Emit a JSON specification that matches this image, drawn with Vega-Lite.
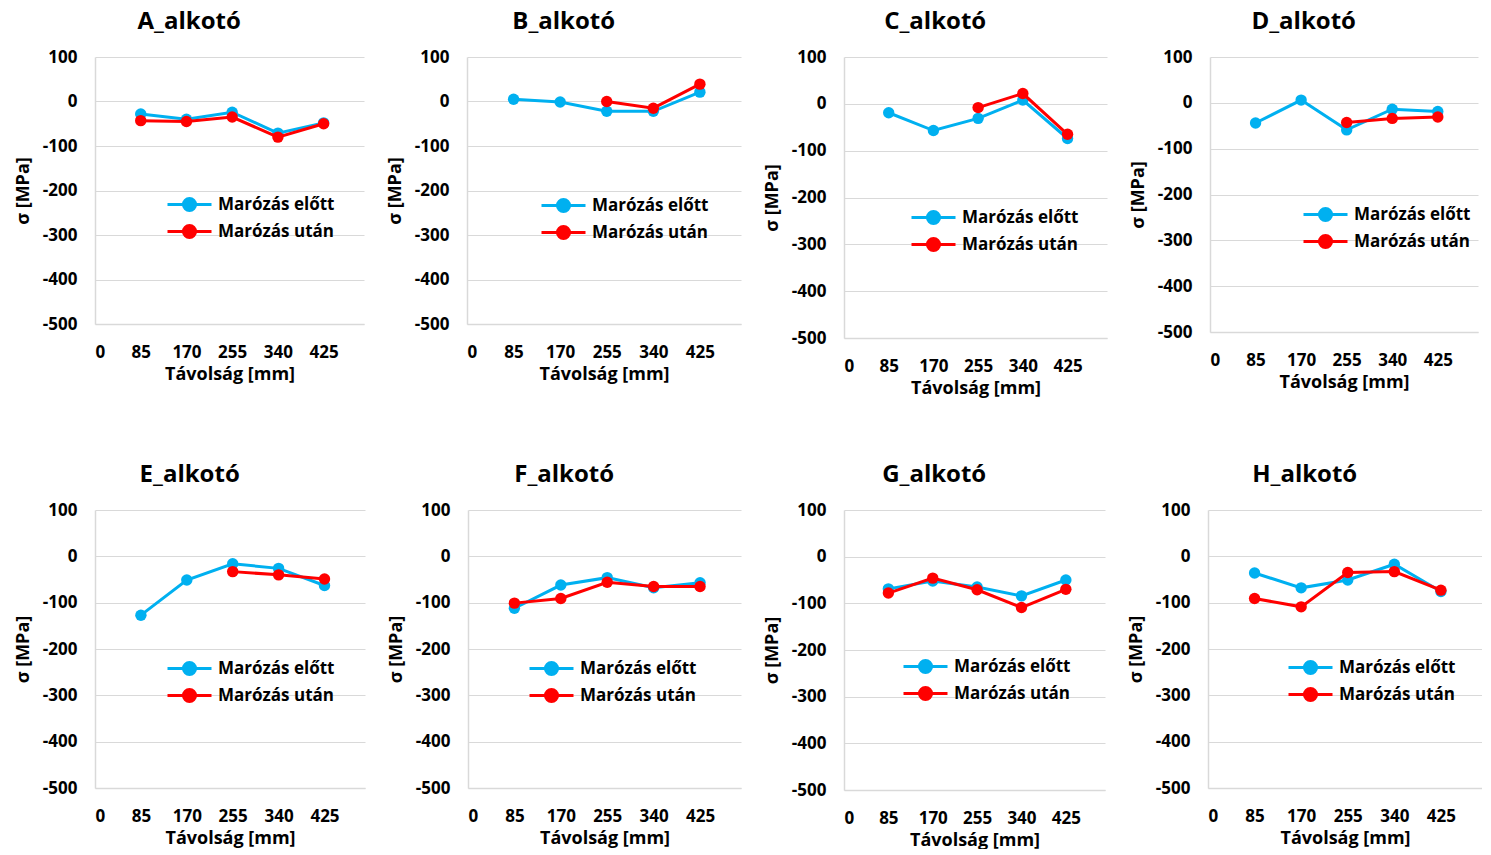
{
"$schema": "https://vega.github.io/schema/vega-lite/v6.json",
"padding": {"top": 10, "left": 14, "right": 0, "bottom": 0},
"background": "white",
"datasets": {"d": [
{"panel":"A","series":"Marózás előtt","x":85,"y":-28},{"panel":"A","series":"Marózás előtt","x":170,"y":-40},{"panel":"A","series":"Marózás előtt","x":255,"y":-24},{"panel":"A","series":"Marózás előtt","x":340,"y":-71},{"panel":"A","series":"Marózás előtt","x":425,"y":-48},
{"panel":"A","series":"Marózás után","x":85,"y":-43},{"panel":"A","series":"Marózás után","x":170,"y":-45},{"panel":"A","series":"Marózás után","x":255,"y":-35},{"panel":"A","series":"Marózás után","x":340,"y":-80},{"panel":"A","series":"Marózás után","x":425,"y":-50},
{"panel":"B","series":"Marózás előtt","x":85,"y":5},{"panel":"B","series":"Marózás előtt","x":170,"y":-1},{"panel":"B","series":"Marózás előtt","x":255,"y":-22},{"panel":"B","series":"Marózás előtt","x":340,"y":-22},{"panel":"B","series":"Marózás előtt","x":425,"y":21},
{"panel":"B","series":"Marózás után","x":255,"y":0},{"panel":"B","series":"Marózás után","x":340,"y":-15},{"panel":"B","series":"Marózás után","x":425,"y":39},
{"panel":"C","series":"Marózás előtt","x":85,"y":-19},{"panel":"C","series":"Marózás előtt","x":170,"y":-57},{"panel":"C","series":"Marózás előtt","x":255,"y":-31},{"panel":"C","series":"Marózás előtt","x":340,"y":8},{"panel":"C","series":"Marózás előtt","x":425,"y":-74},
{"panel":"C","series":"Marózás után","x":255,"y":-8},{"panel":"C","series":"Marózás után","x":340,"y":22},{"panel":"C","series":"Marózás után","x":425,"y":-65},
{"panel":"D","series":"Marózás előtt","x":85,"y":-44},{"panel":"D","series":"Marózás előtt","x":170,"y":6},{"panel":"D","series":"Marózás előtt","x":255,"y":-59},{"panel":"D","series":"Marózás előtt","x":340,"y":-14},{"panel":"D","series":"Marózás előtt","x":425,"y":-19},
{"panel":"D","series":"Marózás után","x":255,"y":-43},{"panel":"D","series":"Marózás után","x":340,"y":-34},{"panel":"D","series":"Marózás után","x":425,"y":-31},
{"panel":"E","series":"Marózás előtt","x":85,"y":-127},{"panel":"E","series":"Marózás előtt","x":170,"y":-51},{"panel":"E","series":"Marózás előtt","x":255,"y":-16},{"panel":"E","series":"Marózás előtt","x":340,"y":-26},{"panel":"E","series":"Marózás előtt","x":425,"y":-63},
{"panel":"E","series":"Marózás után","x":255,"y":-33},{"panel":"E","series":"Marózás után","x":340,"y":-40},{"panel":"E","series":"Marózás után","x":425,"y":-49},
{"panel":"F","series":"Marózás előtt","x":85,"y":-112},{"panel":"F","series":"Marózás előtt","x":170,"y":-62},{"panel":"F","series":"Marózás előtt","x":255,"y":-46},{"panel":"F","series":"Marózás előtt","x":340,"y":-68},{"panel":"F","series":"Marózás előtt","x":425,"y":-57},
{"panel":"F","series":"Marózás után","x":85,"y":-101},{"panel":"F","series":"Marózás után","x":170,"y":-91},{"panel":"F","series":"Marózás után","x":255,"y":-56},{"panel":"F","series":"Marózás után","x":340,"y":-65},{"panel":"F","series":"Marózás után","x":425,"y":-65},
{"panel":"G","series":"Marózás előtt","x":85,"y":-69},{"panel":"G","series":"Marózás előtt","x":170,"y":-52},{"panel":"G","series":"Marózás előtt","x":255,"y":-65},{"panel":"G","series":"Marózás előtt","x":340,"y":-84},{"panel":"G","series":"Marózás előtt","x":425,"y":-50},
{"panel":"G","series":"Marózás után","x":85,"y":-78},{"panel":"G","series":"Marózás után","x":170,"y":-46},{"panel":"G","series":"Marózás után","x":255,"y":-71},{"panel":"G","series":"Marózás után","x":340,"y":-109},{"panel":"G","series":"Marózás után","x":425,"y":-70},
{"panel":"H","series":"Marózás előtt","x":85,"y":-36},{"panel":"H","series":"Marózás előtt","x":170,"y":-68},{"panel":"H","series":"Marózás előtt","x":255,"y":-51},{"panel":"H","series":"Marózás előtt","x":340,"y":-17},{"panel":"H","series":"Marózás előtt","x":425,"y":-76},
{"panel":"H","series":"Marózás után","x":85,"y":-91},{"panel":"H","series":"Marózás után","x":170,"y":-109},{"panel":"H","series":"Marózás után","x":255,"y":-35},{"panel":"H","series":"Marózás után","x":340,"y":-33},{"panel":"H","series":"Marózás után","x":425,"y":-73}
]},
"data": {"name": "d"},
"config": {
  "font": "Open Sans",
  "view": {"stroke": null},
  "axis": {"labelFont": "Open Sans", "labelFontWeight": "bold", "labelFontSize": 17, "labelColor": "#000000", "titleFont": "Open Sans", "titleFontWeight": "bold", "titleFontSize": 18, "titleColor": "#000000", "ticks": false, "gridColor": "#d9d9d9", "domainColor": "#d9d9d9", "domainWidth": 1.5},
  "axisY": {"labelPadding": 18, "titlePadding": 10, "grid": true},
  "axisX": {"labelPadding": 20, "titlePadding": 5, "grid": false},
  "title": {"font": "Open Sans", "fontSize": 24, "fontWeight": "bold", "color": "#000000", "frame": "bounds", "offset": 14},
  "legend": {"labelFont": "Open Sans", "labelFontSize": 17, "labelFontWeight": "bold", "labelColor": "#000000", "labelOffset": 16, "rowPadding": 2, "padding": 0, "symbolStrokeWidth": 3}
},
"spacing": 66,
"resolve": {"scale": {"color": "independent"}, "legend": {"color": "independent"}},
"vconcat": [
{"spacing": 22, "resolve": {"scale": {"color": "independent"}, "legend": {"color": "independent"}}, "hconcat": [
 {"width": 269, "height": 267, "title": "A_alkotó", "transform": [{"filter": "datum.panel=='A'"}],
  "encoding": {
   "x": {"field": "x", "type": "quantitative", "scale": {"domain": [0, 500], "nice": false}, "axis": {"values": [0, 85, 170, 255, 340, 425], "title": "Távolság [mm]"}},
   "y": {"field": "y", "type": "quantitative", "scale": {"domain": [-500, 100], "nice": false}, "axis": {"values": [-500, -400, -300, -200, -100, 0, 100], "title": "σ [MPa]", "labelExpr": "'' + datum.value"}},
   "color": {"field": "series", "type": "nominal", "scale": {"domain": ["Marózás előtt", "Marózás után"], "range": ["#00B0F0", "#FF0000"]}, "legend": {"title": null, "orient": "none", "legendX": 82, "legendY": 135, "symbolType": "M-2,0L2,0M-0.55,0A0.55,0.55,0,1,1,0.55,0A0.55,0.55,0,1,1,-0.55,0Z", "symbolSize": 484, "encode": {"symbols": {"update": {"fill": {"signal": "datum.value=='Marózás előtt'?'#00B0F0':'#FF0000'"}, "stroke": {"signal": "datum.value=='Marózás előtt'?'#00B0F0':'#FF0000'"}, "opacity": {"value": 1}}}}}}
  },
  "layer": [
   {"transform": [{"filter": "datum.series=='Marózás előtt'"}], "mark": {"type": "line", "strokeWidth": 3, "point": {"filled": true, "size": 130, "opacity": 1}}},
   {"transform": [{"filter": "datum.series=='Marózás után'"}], "mark": {"type": "line", "strokeWidth": 3, "point": {"filled": true, "size": 130, "opacity": 1}}}
  ]},
 {"width": 274, "height": 267, "title": "B_alkotó", "transform": [{"filter": "datum.panel=='B'"}],
  "encoding": {
   "x": {"field": "x", "type": "quantitative", "scale": {"domain": [0, 500], "nice": false}, "axis": {"values": [0, 85, 170, 255, 340, 425], "title": "Távolság [mm]"}},
   "y": {"field": "y", "type": "quantitative", "scale": {"domain": [-500, 100], "nice": false}, "axis": {"values": [-500, -400, -300, -200, -100, 0, 100], "title": "σ [MPa]", "labelExpr": "'' + datum.value"}},
   "color": {"field": "series", "type": "nominal", "scale": {"domain": ["Marózás előtt", "Marózás után"], "range": ["#00B0F0", "#FF0000"]}, "legend": {"title": null, "orient": "none", "legendX": 84, "legendY": 136, "symbolType": "M-2,0L2,0M-0.55,0A0.55,0.55,0,1,1,0.55,0A0.55,0.55,0,1,1,-0.55,0Z", "symbolSize": 484, "encode": {"symbols": {"update": {"fill": {"signal": "datum.value=='Marózás előtt'?'#00B0F0':'#FF0000'"}, "stroke": {"signal": "datum.value=='Marózás előtt'?'#00B0F0':'#FF0000'"}, "opacity": {"value": 1}}}}}}
  },
  "layer": [
   {"transform": [{"filter": "datum.series=='Marózás előtt'"}], "mark": {"type": "line", "strokeWidth": 3, "point": {"filled": true, "size": 130, "opacity": 1}}},
   {"transform": [{"filter": "datum.series=='Marózás után'"}], "mark": {"type": "line", "strokeWidth": 3, "point": {"filled": true, "size": 130, "opacity": 1}}}
  ]},
 {"width": 263, "height": 281, "title": "C_alkotó", "transform": [{"filter": "datum.panel=='C'"}],
  "encoding": {
   "x": {"field": "x", "type": "quantitative", "scale": {"domain": [0, 500], "nice": false}, "axis": {"values": [0, 85, 170, 255, 340, 425], "title": "Távolság [mm]"}},
   "y": {"field": "y", "type": "quantitative", "scale": {"domain": [-500, 100], "nice": false}, "axis": {"values": [-500, -400, -300, -200, -100, 0, 100], "title": "σ [MPa]", "labelExpr": "'' + datum.value"}},
   "color": {"field": "series", "type": "nominal", "scale": {"domain": ["Marózás előtt", "Marózás után"], "range": ["#00B0F0", "#FF0000"]}, "legend": {"title": null, "orient": "none", "legendX": 77, "legendY": 148, "symbolType": "M-2,0L2,0M-0.55,0A0.55,0.55,0,1,1,0.55,0A0.55,0.55,0,1,1,-0.55,0Z", "symbolSize": 484, "encode": {"symbols": {"update": {"fill": {"signal": "datum.value=='Marózás előtt'?'#00B0F0':'#FF0000'"}, "stroke": {"signal": "datum.value=='Marózás előtt'?'#00B0F0':'#FF0000'"}, "opacity": {"value": 1}}}}}}
  },
  "layer": [
   {"transform": [{"filter": "datum.series=='Marózás előtt'"}], "mark": {"type": "line", "strokeWidth": 3, "point": {"filled": true, "size": 130, "opacity": 1}}},
   {"transform": [{"filter": "datum.series=='Marózás után'"}], "mark": {"type": "line", "strokeWidth": 3, "point": {"filled": true, "size": 130, "opacity": 1}}}
  ]},
 {"width": 268, "height": 275, "title": "D_alkotó", "transform": [{"filter": "datum.panel=='D'"}],
  "encoding": {
   "x": {"field": "x", "type": "quantitative", "scale": {"domain": [0, 500], "nice": false}, "axis": {"values": [0, 85, 170, 255, 340, 425], "title": "Távolság [mm]"}},
   "y": {"field": "y", "type": "quantitative", "scale": {"domain": [-500, 100], "nice": false}, "axis": {"values": [-500, -400, -300, -200, -100, 0, 100], "title": "σ [MPa]", "labelExpr": "'' + datum.value"}},
   "color": {"field": "series", "type": "nominal", "scale": {"domain": ["Marózás előtt", "Marózás után"], "range": ["#00B0F0", "#FF0000"]}, "legend": {"title": null, "orient": "none", "legendX": 103, "legendY": 145, "symbolType": "M-2,0L2,0M-0.55,0A0.55,0.55,0,1,1,0.55,0A0.55,0.55,0,1,1,-0.55,0Z", "symbolSize": 484, "encode": {"symbols": {"update": {"fill": {"signal": "datum.value=='Marózás előtt'?'#00B0F0':'#FF0000'"}, "stroke": {"signal": "datum.value=='Marózás előtt'?'#00B0F0':'#FF0000'"}, "opacity": {"value": 1}}}}}}
  },
  "layer": [
   {"transform": [{"filter": "datum.series=='Marózás előtt'"}], "mark": {"type": "line", "strokeWidth": 3, "point": {"filled": true, "size": 130, "opacity": 1}}},
   {"transform": [{"filter": "datum.series=='Marózás után'"}], "mark": {"type": "line", "strokeWidth": 3, "point": {"filled": true, "size": 130, "opacity": 1}}}
  ]}
]},
{"spacing": 22, "resolve": {"scale": {"color": "independent"}, "legend": {"color": "independent"}}, "hconcat": [
 {"width": 270, "height": 278, "title": "E_alkotó", "transform": [{"filter": "datum.panel=='E'"}],
  "encoding": {
   "x": {"field": "x", "type": "quantitative", "scale": {"domain": [0, 500], "nice": false}, "axis": {"values": [0, 85, 170, 255, 340, 425], "title": "Távolság [mm]"}},
   "y": {"field": "y", "type": "quantitative", "scale": {"domain": [-500, 100], "nice": false}, "axis": {"values": [-500, -400, -300, -200, -100, 0, 100], "title": "σ [MPa]", "labelExpr": "'' + datum.value"}},
   "color": {"field": "series", "type": "nominal", "scale": {"domain": ["Marózás előtt", "Marózás után"], "range": ["#00B0F0", "#FF0000"]}, "legend": {"title": null, "orient": "none", "legendX": 82, "legendY": 146, "symbolType": "M-2,0L2,0M-0.55,0A0.55,0.55,0,1,1,0.55,0A0.55,0.55,0,1,1,-0.55,0Z", "symbolSize": 484, "encode": {"symbols": {"update": {"fill": {"signal": "datum.value=='Marózás előtt'?'#00B0F0':'#FF0000'"}, "stroke": {"signal": "datum.value=='Marózás előtt'?'#00B0F0':'#FF0000'"}, "opacity": {"value": 1}}}}}}
  },
  "layer": [
   {"transform": [{"filter": "datum.series=='Marózás előtt'"}], "mark": {"type": "line", "strokeWidth": 3, "point": {"filled": true, "size": 130, "opacity": 1}}},
   {"transform": [{"filter": "datum.series=='Marózás után'"}], "mark": {"type": "line", "strokeWidth": 3, "point": {"filled": true, "size": 130, "opacity": 1}}}
  ]},
 {"width": 273, "height": 278, "title": "F_alkotó", "transform": [{"filter": "datum.panel=='F'"}],
  "encoding": {
   "x": {"field": "x", "type": "quantitative", "scale": {"domain": [0, 500], "nice": false}, "axis": {"values": [0, 85, 170, 255, 340, 425], "title": "Távolság [mm]"}},
   "y": {"field": "y", "type": "quantitative", "scale": {"domain": [-500, 100], "nice": false}, "axis": {"values": [-500, -400, -300, -200, -100, 0, 100], "title": "σ [MPa]", "labelExpr": "'' + datum.value"}},
   "color": {"field": "series", "type": "nominal", "scale": {"domain": ["Marózás előtt", "Marózás után"], "range": ["#00B0F0", "#FF0000"]}, "legend": {"title": null, "orient": "none", "legendX": 71, "legendY": 146, "symbolType": "M-2,0L2,0M-0.55,0A0.55,0.55,0,1,1,0.55,0A0.55,0.55,0,1,1,-0.55,0Z", "symbolSize": 484, "encode": {"symbols": {"update": {"fill": {"signal": "datum.value=='Marózás előtt'?'#00B0F0':'#FF0000'"}, "stroke": {"signal": "datum.value=='Marózás előtt'?'#00B0F0':'#FF0000'"}, "opacity": {"value": 1}}}}}}
  },
  "layer": [
   {"transform": [{"filter": "datum.series=='Marózás előtt'"}], "mark": {"type": "line", "strokeWidth": 3, "point": {"filled": true, "size": 130, "opacity": 1}}},
   {"transform": [{"filter": "datum.series=='Marózás után'"}], "mark": {"type": "line", "strokeWidth": 3, "point": {"filled": true, "size": 130, "opacity": 1}}}
  ]},
 {"width": 261, "height": 280, "title": "G_alkotó", "transform": [{"filter": "datum.panel=='G'"}],
  "encoding": {
   "x": {"field": "x", "type": "quantitative", "scale": {"domain": [0, 500], "nice": false}, "axis": {"values": [0, 85, 170, 255, 340, 425], "title": "Távolság [mm]"}},
   "y": {"field": "y", "type": "quantitative", "scale": {"domain": [-500, 100], "nice": false}, "axis": {"values": [-500, -400, -300, -200, -100, 0, 100], "title": "σ [MPa]", "labelExpr": "'' + datum.value"}},
   "color": {"field": "series", "type": "nominal", "scale": {"domain": ["Marózás előtt", "Marózás után"], "range": ["#00B0F0", "#FF0000"]}, "legend": {"title": null, "orient": "none", "legendX": 69, "legendY": 144, "symbolType": "M-2,0L2,0M-0.55,0A0.55,0.55,0,1,1,0.55,0A0.55,0.55,0,1,1,-0.55,0Z", "symbolSize": 484, "encode": {"symbols": {"update": {"fill": {"signal": "datum.value=='Marózás előtt'?'#00B0F0':'#FF0000'"}, "stroke": {"signal": "datum.value=='Marózás előtt'?'#00B0F0':'#FF0000'"}, "opacity": {"value": 1}}}}}}
  },
  "layer": [
   {"transform": [{"filter": "datum.series=='Marózás előtt'"}], "mark": {"type": "line", "strokeWidth": 3, "point": {"filled": true, "size": 130, "opacity": 1}}},
   {"transform": [{"filter": "datum.series=='Marózás után'"}], "mark": {"type": "line", "strokeWidth": 3, "point": {"filled": true, "size": 130, "opacity": 1}}}
  ]},
 {"width": 274, "height": 278, "title": "H_alkotó", "transform": [{"filter": "datum.panel=='H'"}],
  "encoding": {
   "x": {"field": "x", "type": "quantitative", "scale": {"domain": [0, 500], "nice": false}, "axis": {"values": [0, 85, 170, 255, 340, 425], "title": "Távolság [mm]"}},
   "y": {"field": "y", "type": "quantitative", "scale": {"domain": [-500, 100], "nice": false}, "axis": {"values": [-500, -400, -300, -200, -100, 0, 100], "title": "σ [MPa]", "labelExpr": "'' + datum.value"}},
   "color": {"field": "series", "type": "nominal", "scale": {"domain": ["Marózás előtt", "Marózás után"], "range": ["#00B0F0", "#FF0000"]}, "legend": {"title": null, "orient": "none", "legendX": 90, "legendY": 145, "symbolType": "M-2,0L2,0M-0.55,0A0.55,0.55,0,1,1,0.55,0A0.55,0.55,0,1,1,-0.55,0Z", "symbolSize": 484, "encode": {"symbols": {"update": {"fill": {"signal": "datum.value=='Marózás előtt'?'#00B0F0':'#FF0000'"}, "stroke": {"signal": "datum.value=='Marózás előtt'?'#00B0F0':'#FF0000'"}, "opacity": {"value": 1}}}}}}
  },
  "layer": [
   {"transform": [{"filter": "datum.series=='Marózás előtt'"}], "mark": {"type": "line", "strokeWidth": 3, "point": {"filled": true, "size": 130, "opacity": 1}}},
   {"transform": [{"filter": "datum.series=='Marózás után'"}], "mark": {"type": "line", "strokeWidth": 3, "point": {"filled": true, "size": 130, "opacity": 1}}}
  ]}
]}
]
}
